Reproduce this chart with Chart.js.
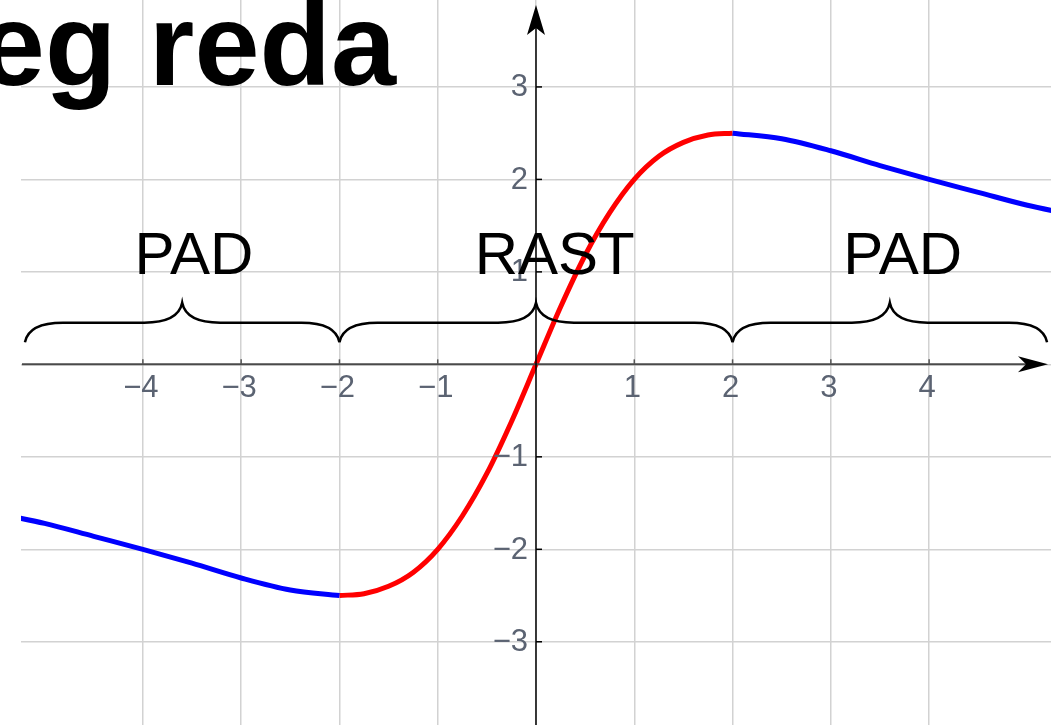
<!DOCTYPE html>
<html>
<head>
<meta charset="utf-8">
<script src="https://cdn.jsdelivr.net/npm/chart.js@4"></script>
<style>
  html, body { margin: 0; padding: 0; background: #fff; }
  #wrap { width: 1051px; height: 725px; position: relative; }
</style>
</head>
<body>
<div id="wrap"><canvas id="chart"></canvas></div>
<script>
// values
const redX = [-2, -1.75, -1.5, -1.25, -1, -0.75, -0.5, -0.25, 0, 0.25, 0.5, 0.75, 1, 1.25, 1.5, 1.75, 2];
const redY = [-2.5, -2.48, -2.4, -2.25, -2, -1.64, -1.18, -0.62, 0, 0.62, 1.18, 1.64, 2, 2.25, 2.4, 2.48, 2.5];
const blueLeftX = [-5.5, -5, -4.5, -4, -3.5, -3, -2.5, -2];
const blueLeftY = [-1.61, -1.72, -1.86, -2, -2.15, -2.31, -2.44, -2.5];
const blueRightX = [2, 2.5, 3, 3.5, 4, 4.5, 5, 5.5];
const blueRightY = [2.5, 2.44, 2.31, 2.15, 2, 1.86, 1.72, 1.61];

const xTickLabels = [-4, -3, -2, -1, 1, 2, 3, 4];
const yTickLabels = [-3, -2, -1, 1, 2, 3];

// braces and their words
const braceFrom = [-5.2, -2, 2];
const braceTo = [-2, 2, 5.2];
const braceWords = ['PAD', 'RAST', 'PAD'];
const wordX = [-3.48, 0.19, 3.73];
const titleText = 'eg reda';

const toPts = (xs, ys) => xs.map((x, i) => ({ x: x, y: ys[i] }));
const minus = v => (v < 0 ? '\u2212' + Math.abs(v) : String(v));

const decor = {
  id: 'decor',
  afterDatasetsDraw(chart) {
    const ctx = chart.ctx;
    const xs = chart.scales.x, ys = chart.scales.y;
    const a = chart.chartArea;
    const x0 = xs.getPixelForValue(0), y0 = ys.getPixelForValue(0);
    ctx.save();

    // x axis
    ctx.strokeStyle = '#4a4a4a';
    ctx.lineWidth = 2;
    ctx.beginPath();
    ctx.moveTo(a.left + 1, y0);
    ctx.lineTo(a.right - 20, y0);
    ctx.stroke();
    ctx.fillStyle = '#000';
    ctx.beginPath();
    ctx.moveTo(a.right - 3, y0);
    ctx.lineTo(a.right - 33, y0 - 8);
    ctx.lineTo(a.right - 25, y0);
    ctx.lineTo(a.right - 33, y0 + 8);
    ctx.closePath();
    ctx.fill();
    // x ticks
    ctx.strokeStyle = '#555';
    ctx.lineWidth = 1.5;
    xTickLabels.forEach(v => {
      const px = xs.getPixelForValue(v);
      ctx.beginPath();
      ctx.moveTo(px, y0);
      ctx.lineTo(px, y0 - 5);
      ctx.stroke();
    });

    // y axis
    ctx.strokeStyle = '#000';
    ctx.lineWidth = 1.5;
    ctx.beginPath();
    ctx.moveTo(x0, a.bottom);
    ctx.lineTo(x0, a.top + 25);
    ctx.stroke();
    ctx.beginPath();
    ctx.moveTo(x0, a.top + 5);
    ctx.lineTo(x0 - 9, a.top + 35);
    ctx.lineTo(x0, a.top + 28);
    ctx.lineTo(x0 + 9, a.top + 35);
    ctx.closePath();
    ctx.fill();
    yTickLabels.forEach(v => {
      const py = ys.getPixelForValue(v);
      ctx.beginPath();
      ctx.moveTo(x0, py);
      ctx.lineTo(x0 + 6, py);
      ctx.stroke();
    });

    // tick labels
    ctx.fillStyle = '#5b6372';
    ctx.font = '31px "Liberation Sans", Arial, sans-serif';
    ctx.textAlign = 'center';
    ctx.textBaseline = 'top';
    xTickLabels.forEach(v => {
      ctx.fillText(minus(v), xs.getPixelForValue(v) - 2, y0 + 9);
    });
    ctx.textAlign = 'right';
    ctx.textBaseline = 'middle';
    yTickLabels.forEach(v => {
      ctx.fillText(minus(v), x0 - 8, ys.getPixelForValue(v) + 1);
    });

    // braces
    ctx.strokeStyle = '#000';
    ctx.lineWidth = 2.5;
    const yEnd = ys.getPixelForValue(0.24);
    const yFlat = ys.getPixelForValue(0.45);
    const yTip = ys.getPixelForValue(0.665);
    const r = 38;
    braceFrom.forEach((f, i) => {
      const l = xs.getPixelForValue(f), rr = xs.getPixelForValue(braceTo[i]);
      const m = (l + rr) / 2;
      ctx.beginPath();
      ctx.moveTo(l, yEnd);
      ctx.quadraticCurveTo(l + 4, yFlat, l + r, yFlat);
      ctx.lineTo(m - r, yFlat);
      ctx.quadraticCurveTo(m - 4, yFlat, m, yTip);
      ctx.quadraticCurveTo(m + 4, yFlat, m + r, yFlat);
      ctx.lineTo(rr - r, yFlat);
      ctx.quadraticCurveTo(rr - 4, yFlat, rr, yEnd);
      ctx.stroke();
    });

    // words
    ctx.fillStyle = '#000';
    ctx.font = '60px "Liberation Sans", Arial, sans-serif';
    ctx.textAlign = 'center';
    ctx.textBaseline = 'alphabetic';
    braceWords.forEach((w, i) => {
      ctx.fillText(w, xs.getPixelForValue(wordX[i]), ys.getPixelForValue(0.98));
    });

    // title, cut at the left edge
    ctx.font = 'bold 117px "Liberation Sans", Arial, sans-serif';
    ctx.textAlign = 'right';
    ctx.fillText(titleText, 396, 85);
    ctx.restore();
  }
};

const gridColor = c => Number.isInteger(c.tick.value) ? '#d2d2d2' : 'rgba(0,0,0,0)';

new Chart(document.getElementById('chart'), {
  type: 'scatter',
  data: {
    datasets: [
      { data: toPts(blueLeftX, blueLeftY), borderColor: '#0000ff' },
      { data: toPts(blueRightX, blueRightY), borderColor: '#0000ff' },
      { data: toPts(redX, redY), borderColor: '#ff0000' }
    ]
  },
  options: {
    responsive: true,
    maintainAspectRatio: false,
    animation: false,
    showLine: true,
    layout: { padding: { left: 21, right: 0, top: 0, bottom: 0 } },
    elements: {
      point: { radius: 0, hoverRadius: 0 },
      line: { borderWidth: 5, cubicInterpolationMode: 'monotone', fill: false }
    },
    plugins: { legend: { display: false }, tooltip: { enabled: false } },
    scales: {
      x: {
        type: 'linear', min: -5.24, max: 5.24,
        ticks: { display: false, stepSize: 1 },
        grid: { drawTicks: false, color: gridColor, lineWidth: 1.5 },
        border: { display: false }
      },
      y: {
        type: 'linear', min: -3.9, max: 3.94,
        ticks: { display: false, stepSize: 1 },
        grid: { drawTicks: false, color: gridColor, lineWidth: 1.5 },
        border: { display: false }
      }
    }
  },
  plugins: [decor]
});
</script>
</body>
</html>
